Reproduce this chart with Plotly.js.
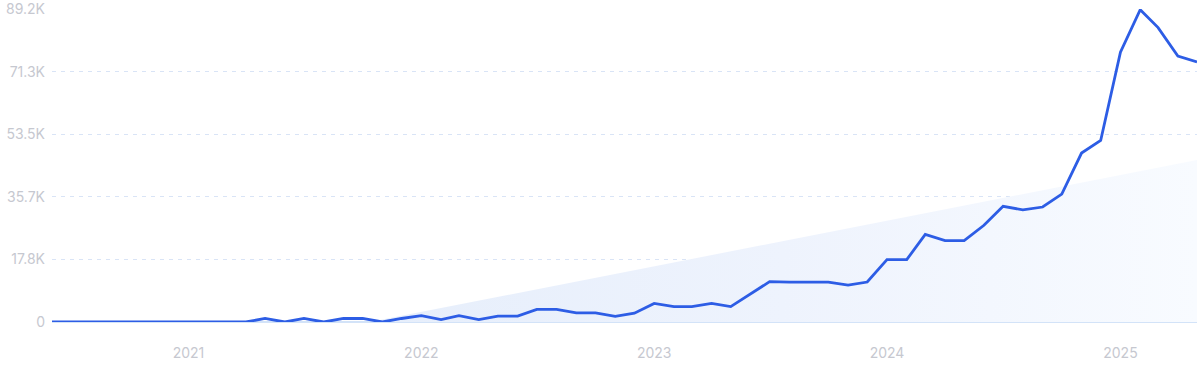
<!DOCTYPE html>
<html>
<head>
<meta charset="utf-8">
<script src="https://cdn.plot.ly/plotly-3.0.1.min.js"></script>
<style>
  html, body { margin: 0; padding: 0; background: #ffffff; }
  #chart { width: 1200px; height: 371px; }
</style>
</head>
<body>
<div id="chart"></div>
<script>
const months = [
  "2020-06-01","2020-07-01","2020-08-01","2020-09-01","2020-10-01","2020-11-01","2020-12-01",
  "2021-01-01","2021-02-01","2021-03-01","2021-04-01","2021-05-01","2021-06-01","2021-07-01",
  "2021-08-01","2021-09-01","2021-10-01","2021-11-01","2021-12-01",
  "2022-01-01","2022-02-01","2022-03-01","2022-04-01","2022-05-01","2022-06-01","2022-07-01",
  "2022-08-01","2022-09-01","2022-10-01","2022-11-01","2022-12-01",
  "2023-01-01","2023-02-01","2023-03-01","2023-04-01","2023-05-01","2023-06-01","2023-07-01",
  "2023-08-01","2023-09-01","2023-10-01","2023-11-01","2023-12-01",
  "2024-01-01","2024-02-01","2024-03-01","2024-04-01","2024-05-01","2024-06-01","2024-07-01",
  "2024-08-01","2024-09-01","2024-10-01","2024-11-01","2024-12-01",
  "2025-01-01","2025-02-01","2025-03-01","2025-04-01","2025-05-01"
];

const searches = [
  0, 0, 0, 0, 0, 0, 0,
  0, 0, 0, 0, 1000, 0, 1000,
  0, 1000, 1000, 0, 1000,
  1800, 700, 1800, 700, 1700, 1700, 3600,
  3600, 2600, 2600, 1600, 2500,
  5300, 4400, 4400, 5300, 4400, 8000, 11500,
  11400, 11400, 11400, 10500, 11400,
  17800, 17800, 25000, 23200, 23200, 27600, 33000,
  32000, 32800, 36500, 48200, 51800,
  77000, 89100, 84000, 75900, 74200
];

const trendDates = ["2021-10-12", "2025-05-01"];
const trendValues = [0, 46200];

const yTickVals = [0, 17840, 35680, 53520, 71360, 89200];
const yTickText = ["0", "17.8K", "35.7K", "53.5K", "71.3K", "89.2K"];
const xTickVals = ["2021-01-01", "2022-01-01", "2023-01-01", "2024-01-01", "2025-01-01"];
const xTickText = ["2021", "2022", "2023", "2024", "2025"];

const traces = [
  {
    x: trendDates,
    y: trendValues,
    type: "scatter",
    mode: "lines",
    line: { width: 0, color: "rgba(0,0,0,0)" },
    fill: "tozeroy",
    fillgradient: {
      type: "horizontal",
      colorscale: [[0, "#e6eefb"], [0.5, "#eef3fd"], [1, "#f8fbff"]]
    },
    hoverinfo: "skip",
    showlegend: false
  },
  {
    x: months,
    y: searches,
    type: "scatter",
    mode: "lines",
    line: { color: "#2d5de5", width: 2.8 },
    showlegend: false
  }
];

const tickFont = { family: "Inter, 'Open Sans', sans-serif", size: 14, color: "#c6c8d0" };

const layout = {
  width: 1200,
  height: 371,
  margin: { l: 52, r: 3, t: 9, b: 49 },
  paper_bgcolor: "#ffffff",
  plot_bgcolor: "#ffffff",
  showlegend: false,
  xaxis: {
    type: "date",
    range: ["2020-06-01", "2025-05-01"],
    tickvals: xTickVals,
    ticktext: xTickText,
    tickfont: tickFont,
    showgrid: false,
    zeroline: false,
    showline: false,
    ticks: "",
    ticklabelstandoff: 21,
    ticklabeloverflow: "allow"
  },
  yaxis: {
    range: [0, 89300],
    tickvals: yTickVals,
    ticktext: yTickText,
    tickfont: tickFont,
    showgrid: true,
    gridcolor: "#d9e4f6",
    griddash: "4px,5px",
    gridwidth: 1,
    zeroline: true,
    zerolinecolor: "#d3e3f8",
    zerolinewidth: 1.5,
    showline: false,
    ticks: "",
    ticklabelstandoff: 6,
    ticklabeloverflow: "allow"
  }
};

Plotly.newPlot("chart", traces, layout, { displayModeBar: false, staticPlot: true });
</script>
</body>
</html>
